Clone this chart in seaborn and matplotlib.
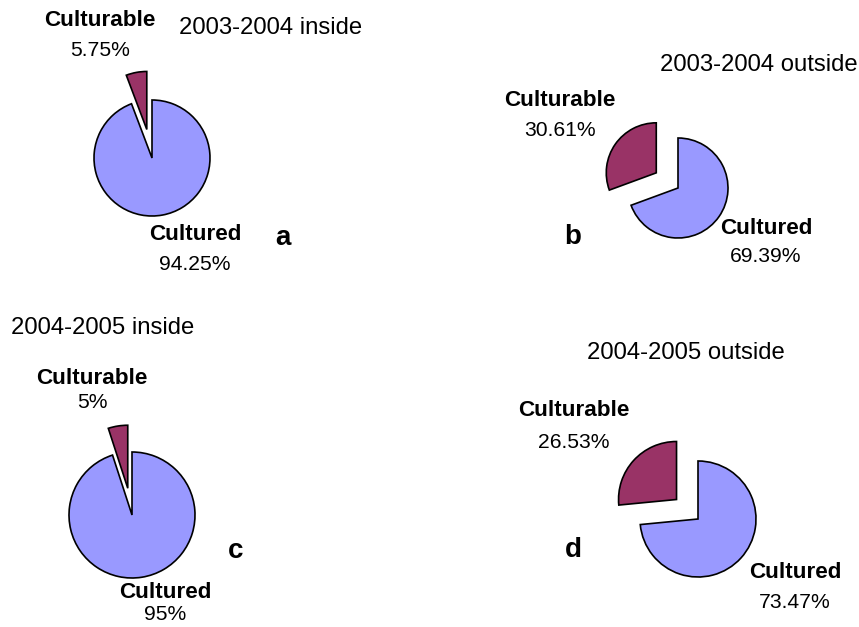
import matplotlib
matplotlib.use("Agg")
import matplotlib.pyplot as plt
import seaborn as sns

# ==========================================================
# DATA
# ==========================================================

periods = ["2003-2004 inside", "2003-2004 outside",
           "2004-2005 inside", "2004-2005 outside"]
culturable = [5.75, 30.61, 5, 26.53]
cultured = [94.25, 69.39, 95, 73.47]
panel_letters = ["a", "b", "c", "d"]
slice_names = ["Culturable", "Cultured"]

# ==========================================================
# LAYOUT (pixel positions, y measured from top)
# ==========================================================

W, H = 859, 627
pie_center = [(152, 158), (678, 188), (132, 515), (698, 519)]
pie_radius = [58, 50, 63, 58]
pie_explode = [0.5, 0.53, 0.43, 0.5]   # fraction of radius
title_pos = [(271, 28), (759, 65), (103, 328), (686, 353)]
# (x, name y, percent y)
culturable_pos = [(100, 21, 50), (560, 100, 130), (92, 378, 403), (574, 410, 442)]
cultured_pos = [(195, 235, 265), (766, 228, 257), (165, 593, 615), (795, 573, 602)]
letter_pos = [(283, 238), (573, 237), (236, 551), (573, 550)]

colors = ["#993366", "#9999FF"]

sns.set_theme(style="white")
plt.rcParams["font.family"] = ["Liberation Sans", "DejaVu Sans"]
plt.rcParams["text.color"] = "black"

fig = plt.figure(figsize=(W / 100, H / 100), dpi=100)
ax = fig.add_axes([0, 0, 1, 1])

for i in range(4):
    cx, cy = pie_center[i]
    r = pie_radius[i]
    ax.pie(
        [culturable[i], cultured[i]],
        explode=[pie_explode[i] * r, 0],
        radius=r,
        center=(cx, H - cy),
        startangle=90,
        counterclock=True,
        colors=colors,
        wedgeprops={"edgecolor": "black", "linewidth": 1.2},
    )

    tx, ty = title_pos[i]
    ax.text(tx, H - ty, periods[i], ha="center", va="center", fontsize=17.2)

    for name, value, (lx, ly, vy) in zip(slice_names,
                                         [culturable[i], cultured[i]],
                                         [culturable_pos[i], cultured_pos[i]]):
        ax.text(lx, H - ly, name, ha="center", va="center",
                fontsize=16.2, fontweight="bold")
        ax.text(lx, H - vy, f"{value:g}%", ha="center", va="center",
                fontsize=15.2)

    px, py = letter_pos[i]
    ax.text(px, H - py, panel_letters[i], ha="center", va="center",
            fontsize=20, fontweight="bold")

ax.set_xlim(0, W)
ax.set_ylim(0, H)
ax.set_aspect("auto")
ax.axis("off")

fig.savefig("out.png", dpi=100)
